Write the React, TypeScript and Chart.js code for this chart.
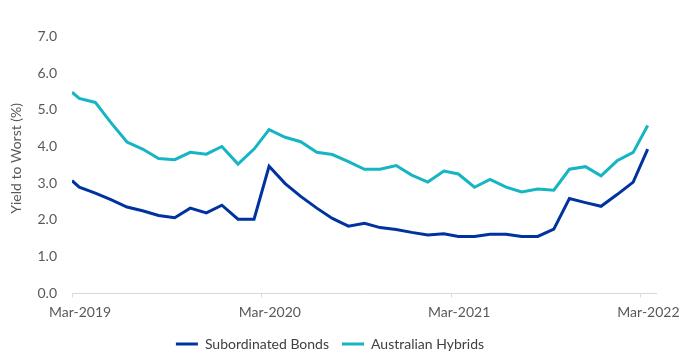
import { useEffect, useRef } from "react";
import { Chart, registerables } from "chart.js";

Chart.register(...registerables);

// Observation dates (first point at start of Mar-2019, then mid-month)
const DATES = [
  "2019-03-01", "2019-03-15", "2019-04-15", "2019-05-15", "2019-06-15", "2019-07-15",
  "2019-08-15", "2019-09-15", "2019-10-15", "2019-11-15", "2019-12-15", "2020-01-15",
  "2020-02-15", "2020-03-15", "2020-04-15", "2020-05-15", "2020-06-15", "2020-07-15",
  "2020-08-15", "2020-09-15", "2020-10-15", "2020-11-15", "2020-12-15", "2021-01-15",
  "2021-02-15", "2021-03-15", "2021-04-15", "2021-05-15", "2021-06-15", "2021-07-15",
  "2021-08-15", "2021-09-15", "2021-10-15", "2021-11-15", "2021-12-15", "2022-01-15",
  "2022-02-15", "2022-03-15",
];

const SUBORDINATED_BONDS = [
  3.07, 2.89, 2.73, 2.55, 2.35, 2.25, 2.12, 2.06, 2.32, 2.19, 2.40, 2.02,
  2.02, 3.46, 2.99, 2.64, 2.32, 2.04, 1.83, 1.91, 1.79, 1.74, 1.66, 1.59,
  1.62, 1.55, 1.55, 1.61, 1.61, 1.55, 1.55, 1.75, 2.58, 2.47, 2.37, 2.69,
  3.03, 3.93,
];

const AUSTRALIAN_HYBRIDS = [
  5.48, 5.31, 5.20, 4.65, 4.12, 3.93, 3.67, 3.64, 3.84, 3.79, 4.00, 3.52,
  3.93, 4.46, 4.25, 4.13, 3.84, 3.78, 3.59, 3.38, 3.38, 3.48, 3.22, 3.03,
  3.33, 3.25, 2.89, 3.10, 2.89, 2.76, 2.84, 2.81, 3.38, 3.45, 3.20, 3.61,
  3.84, 4.57,
];

const TICK_DATES = ["2019-03-01", "2020-03-01", "2021-03-01", "2022-03-01"];
const TICK_LABELS = ["Mar-2019", "Mar-2020", "Mar-2021", "Mar-2022"];
const AXIS_START = "2019-03-01";
const AXIS_END = "2022-03-31";
const Y_TICKS = [0, 1, 2, 3, 4, 5, 6, 7];
const Y_MAX = 7.353;

const SERIES_NAMES = ["Subordinated Bonds", "Australian Hybrids"];
const SERIES_COLORS = ["#0033A0", "#15B5C3"];

const DAY = 86400000;
const dayIndex = (d: string) => (Date.parse(d) - Date.parse(AXIS_START)) / DAY;

export default function App() {
  const canvasRef = useRef<HTMLCanvasElement | null>(null);

  useEffect(() => {
    if (!canvasRef.current) return;
    const font = "Lato";
    const seriesValues = [SUBORDINATED_BONDS, AUSTRALIAN_HYBRIDS];
    const chart = new Chart(canvasRef.current, {
      type: "line",
      data: {
        datasets: seriesValues.map((vals, s) => ({
          label: SERIES_NAMES[s],
          data: vals.map((v, i) => ({ x: dayIndex(DATES[i]), y: v })),
          borderColor: SERIES_COLORS[s],
          backgroundColor: SERIES_COLORS[s],
          borderWidth: 3,
          pointRadius: 0,
          pointHoverRadius: 0,
          tension: 0,
          fill: false,
        })),
      },
      options: {
        animation: false,
        responsive: false,
        maintainAspectRatio: false,
        layout: { padding: { left: 4, right: 39, top: 8, bottom: 1 } },
        plugins: {
          tooltip: { enabled: false },
          legend: {
            position: "bottom",
            align: "center",
            labels: {
              boxWidth: 22,
              boxHeight: 3,
              padding: 13,
              color: "#404040",
              font: { family: font, size: 14 },
              generateLabels: (c: any) => {
                const items = (Chart as any).defaults.plugins.legend.labels.generateLabels(c);
                return items.map((it: any) => ({ ...it, fillStyle: it.strokeStyle, lineWidth: 0 }));
              },
            },
          },
        },
        scales: {
          x: {
            type: "linear",
            min: dayIndex(AXIS_START),
            max: dayIndex(AXIS_END),
            afterBuildTicks: (scale: any) => {
              scale.ticks = TICK_DATES.map((d) => ({ value: dayIndex(d) }));
            },
            afterFit: (scale: any) => {
              scale.height = 30.7;
            },
            ticks: {
              autoSkip: false,
              maxRotation: 0,
              minRotation: 0,
              padding: 7,
              labelOffset: 8,
              color: "#595959",
              font: { family: font, size: 14 },
              callback: (_v: any, i: number) => TICK_LABELS[i],
            },
            grid: {
              display: true,
              drawOnChartArea: false,
              drawTicks: true,
              tickLength: 4,
              color: "#D9D9D9",
            },
            border: { display: true, color: "#D9D9D9", width: 1 },
          },
          y: {
            type: "linear",
            min: 0,
            max: Y_MAX,
            afterBuildTicks: (scale: any) => {
              scale.ticks = Y_TICKS.map((v) => ({ value: v }));
            },
            afterFit: (scale: any) => {
              scale.width = 68;
            },
            ticks: {
              padding: 15,
              color: "#595959",
              font: { family: font, size: 14 },
              callback: (v: any) => Number(v).toFixed(1),
            },
            grid: { display: false, drawTicks: false },
            border: { display: false },
            title: {
              display: true,
              text: "Yield to Worst (%)",
              color: "#595959",
              font: { family: font, size: 14 },
              padding: { top: 4, bottom: 0 },
            },
          },
        },
      },
    });
    return () => chart.destroy();
  }, []);

  return (
    <div
      style={{
        position: "absolute",
        left: 0,
        top: 0,
        width: 695,
        height: 362,
        background: "#ffffff",
      }}
    >
      <canvas ref={canvasRef} width={695} height={362} style={{ width: 695, height: 362 }} />
    </div>
  );
}
